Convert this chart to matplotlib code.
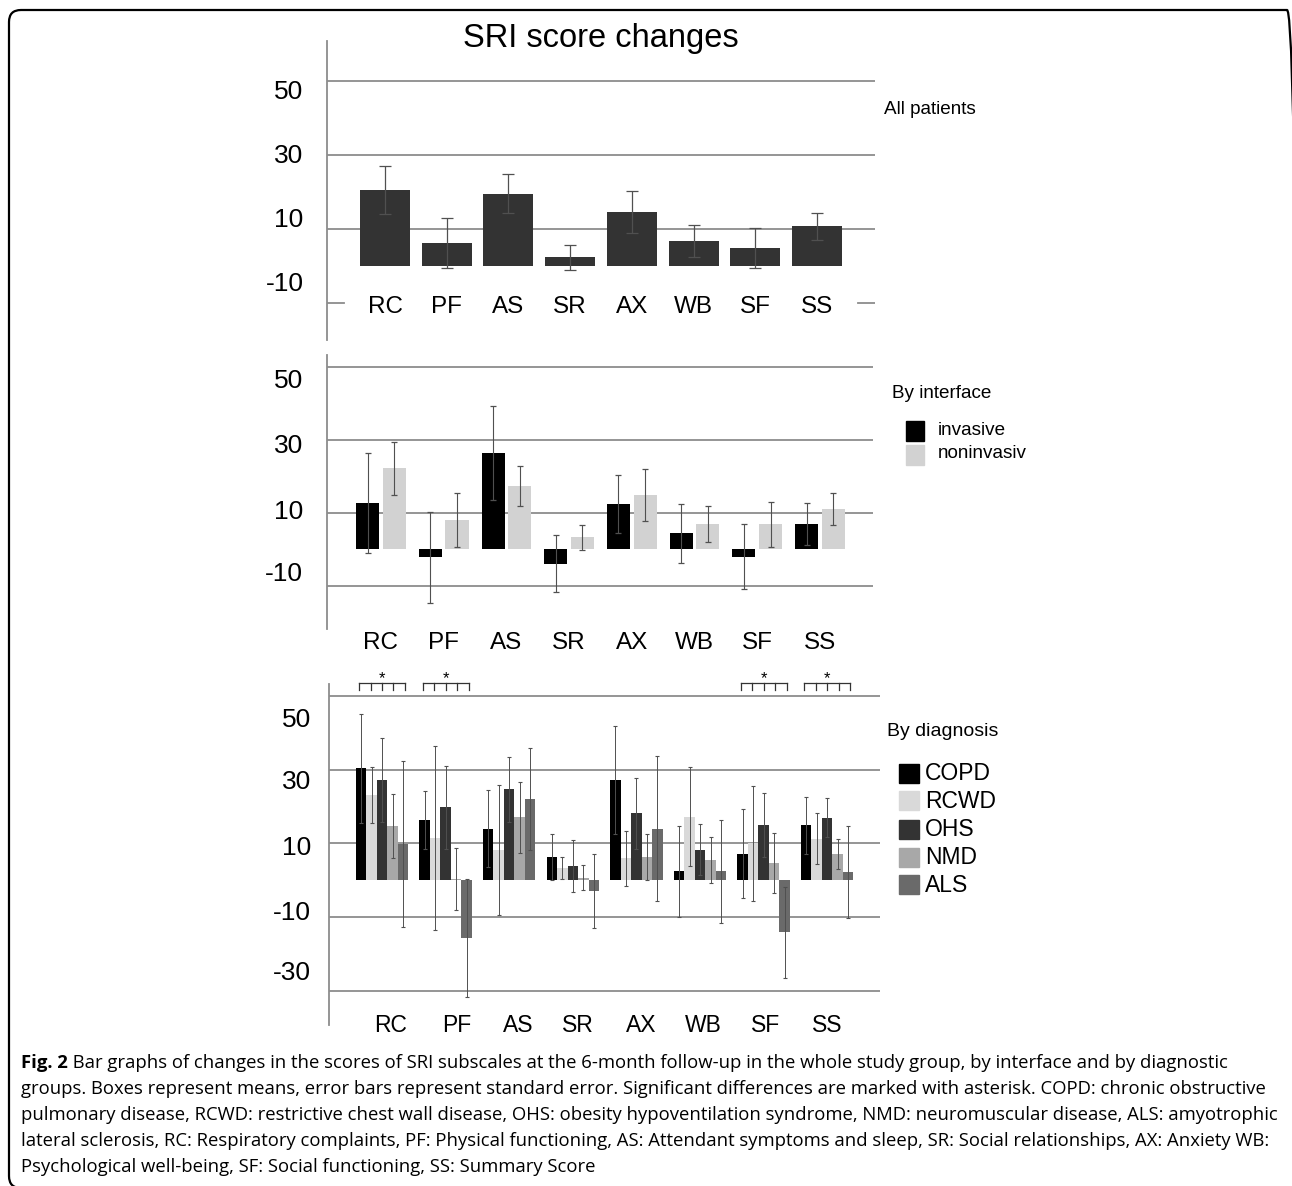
import matplotlib
matplotlib.use("Agg")
import matplotlib.pyplot as plt
from matplotlib.patches import FancyBboxPatch, Rectangle
from matplotlib.transforms import blended_transform_factory, IdentityTransform
import numpy as np

W, H = 1292, 1186

# ---------------- data ----------------
categories = ["RC", "PF", "AS", "SR", "AX", "WB", "SF", "SS"]
ytick_labels = ["50", "30", "10", "-10"]
ytick_labels_diag = ["50", "30", "10", "-10", "-30"]

all_mean = [20.6, 6.3, 19.5, 2.3, 14.6, 6.8, 4.9, 10.7]
all_se = [6.5, 6.8, 5.3, 3.3, 5.8, 4.3, 5.5, 3.6]

inv_mean = [12.8, -2.2, 26.4, -3.9, 12.5, 4.4, -2.0, 7.0]
inv_se = [13.7, 12.5, 12.9, 7.8, 8.0, 8.1, 8.9, 5.8]
non_mean = [22.3, 8.1, 17.4, 3.3, 15.0, 6.9, 6.9, 11.2]
non_se = [7.3, 7.4, 5.6, 3.5, 7.1, 4.9, 6.2, 4.4]

diagnoses = ["COPD", "RCWD", "OHS", "NMD", "ALS"]
copd_mean = [30.3, 16.3, 14.0, 6.3, 27.2, 2.4, 7.2, 14.9]
copd_se = [14.7, 7.9, 10.5, 6.3, 14.6, 12.3, 12.0, 7.7]
rcwd_mean = [23.1, 11.5, 8.2, 3.2, 5.9, 17.2, 10.0, 11.2]
rcwd_se = [7.7, 25.0, 17.7, 3.0, 7.5, 13.4, 15.6, 6.9]
ohs_mean = [27.2, 19.7, 24.6, 3.9, 18.1, 8.3, 14.9, 16.9]
ohs_se = [11.3, 11.3, 8.7, 7.0, 9.7, 7.0, 8.6, 5.3]
nmd_mean = [14.7, 0.3, 17.0, 0.7, 6.3, 5.4, 4.7, 7.0]
nmd_se = [8.6, 8.5, 9.6, 3.4, 6.3, 6.3, 8.1, 4.1]
als_mean = [9.8, -15.7, 22.0, -3.0, 14.0, 2.4, -14.2, 2.3]
als_se = [22.6, 16.1, 13.9, 10.0, 19.6, 14.0, 12.4, 12.5]
significant = ["RC", "PF", "SF", "SS"]

caption_bold = "Fig. 2"
caption_lines = [
    " Bar graphs of changes in the scores of SRI subscales at the 6-month follow-up in the whole study group, by interface and by diagnostic",
    "groups. Boxes represent means, error bars represent standard error. Significant differences are marked with asterisk. COPD: chronic obstructive",
    "pulmonary disease, RCWD: restrictive chest wall disease, OHS: obesity hypoventilation syndrome, NMD: neuromuscular disease, ALS: amyotrophic",
    "lateral sclerosis, RC: Respiratory complaints, PF: Physical functioning, AS: Attendant symptoms and sleep, SR: Social relationships, AX: Anxiety WB:",
    "Psychological well-being, SF: Social functioning, SS: Summary Score",
]

# ---------------- style ----------------
plt.rcParams["font.family"] = ["Liberation Sans", "DejaVu Sans"]
GRID = "#8c8c8c"
ERR = "#505050"

fig = plt.figure(figsize=(W / 100, H / 100), dpi=100)
fig.patch.set_facecolor("white")


def px_axes(x0, y0, x1, y1):
    return fig.add_axes([x0 / W, 1 - y1 / H, (x1 - x0) / W, (y1 - y0) / H])


def style(ax):
    for s in ["top", "right", "bottom"]:
        ax.spines[s].set_visible(False)
    ax.spines["left"].set_color(GRID)
    ax.spines["left"].set_linewidth(1.3)
    ax.set_xticks([])
    ax.set_yticks([])
    ax.patch.set_alpha(0)


def ylabels(ax, labels, positions, xoff, fs=19):
    tr = blended_transform_factory(ax.transAxes, ax.transData)
    for lab, p in zip(labels, positions):
        ax.text(xoff, p, lab, transform=tr, ha="right", va="center", fontsize=fs)


x = np.arange(len(categories))

# ---------------- top panel ----------------
ax1 = px_axes(327, 41, 875, 340)
style(ax1)
ax1.set_xlim(-0.94, 7.94)
ax1.set_ylim(-20, 60.8)
for g in [50, 30, 10]:
    ax1.axhline(g, color=GRID, lw=1.3, zorder=0)
ax1.axhline(-10, xmin=0, xmax=0.031, color=GRID, lw=1.3, zorder=0)
ax1.axhline(-10, xmin=0.969, xmax=1, color=GRID, lw=1.3, zorder=0)
ax1.bar(x, all_mean, width=0.81, color="#333333", zorder=2)
ax1.errorbar(x, all_mean, yerr=all_se, fmt="none", ecolor=ERR, elinewidth=0.9,
             capsize=4.3, capthick=0.9, zorder=3)
ylabels(ax1, ytick_labels, [47.0, 29.7, 12.4, -4.9], -0.043)
for i, c in enumerate(categories):
    ax1.text(i, -11.1, c, ha="center", va="center", fontsize=17.5)
fig.text(601 / W, 1 - 38 / H, "SRI score changes", fontsize=23.5, ha="center", va="center")
fig.text(884 / W, 1 - 110 / H, "All patients", fontsize=13.6, ha="left", va="center")

# ---------------- middle panel ----------------
ax2 = px_axes(327, 355, 873, 629)
style(ax2)
ax2.set_xlim(-0.86, 7.85)
ax2.set_ylim(-21.9, 53.4)
for g in [50, 30, 10, -10]:
    ax2.axhline(g, color=GRID, lw=1.3, zorder=0)
bw2 = 0.37
ax2.bar(x - 0.21, inv_mean, width=bw2, color="black", zorder=2)
ax2.bar(x + 0.215, non_mean, width=bw2, color="#d2d2d2", zorder=2)
ax2.errorbar(x - 0.21, inv_mean, yerr=inv_se, fmt="none", ecolor=ERR, elinewidth=0.8,
             capsize=2.2, capthick=0.9, zorder=3)
ax2.errorbar(x + 0.215, non_mean, yerr=non_se, fmt="none", ecolor=ERR, elinewidth=0.8,
             capsize=2.2, capthick=0.9, zorder=3)
ylabels(ax2, ytick_labels, [46.3, 28.4, 10.3, -6.8], -0.044)
for i, c in enumerate(categories):
    ax2.text(i, -25.7, c, ha="center", va="center", fontsize=17.5, clip_on=False)
fig.text(892 / W, 1 - 394 / H, "By interface", fontsize=13.6, ha="left", va="center")
for (yc, col, lab) in [(431, "black", "invasive"), (455, "#d2d2d2", "noninvasiv")]:
    fig.patches.append(Rectangle(((906) / W, 1 - (yc + 9.5) / H), 18 / W, 19 / H,
                                 transform=fig.transFigure, color=col))
    fig.text(938 / W, 1 - (yc - 1) / H, lab, fontsize=13.6, ha="left", va="center")

# ---------------- bottom panel ----------------
ax3 = px_axes(329, 684, 880, 1025)
style(ax3)
ax3.set_xlim(-0.834, 7.83)
ax3.set_ylim(-39.3, 53.2)
for g in [50, 30, 10, -10, -30]:
    ax3.axhline(g, color=GRID, lw=1.3, zorder=0)
diag_means = [copd_mean, rcwd_mean, ohs_mean, nmd_mean, als_mean]
diag_ses = [copd_se, rcwd_se, ohs_se, nmd_se, als_se]
diag_colors = ["#000000", "#d9d9d9", "#333333", "#a8a8a8", "#6a6a6a"]
bw3 = 0.165
for k, (m, s, col) in enumerate(zip(diag_means, diag_ses, diag_colors)):
    xs = x + (k - 2) * bw3
    ax3.bar(xs, m, width=bw3, color=col, zorder=2)
    ax3.errorbar(xs, m, yerr=s, fmt="none", ecolor=ERR, elinewidth=0.7,
                 capsize=1.2, capthick=0.8, zorder=3)
ylabels(ax3, ytick_labels_diag, [43.5, 26.7, 8.7, -9.0, -25.3], -0.033)
label_shift = [0.13, 0.17, 0.14, 0.08, 0.07, 0.05, 0.03, 0.0]
for i, c in enumerate(categories):
    ax3.text(i + label_shift[i], -39.3, c, ha="center", va="center", fontsize=16.5, clip_on=False)

# significance brackets
for c in significant:
    i = categories.index(c)
    ticks = i + np.arange(-2, 3) * 0.18
    ax3.plot([ticks[0], ticks[-1]], [53.5, 53.5], color="#333333", lw=0.9, clip_on=False)
    for t in ticks:
        ax3.plot([t, t], [53.5, 51.7], color="#333333", lw=0.9, clip_on=False)
    ax3.text(i, 54.6, "*", ha="center", va="center", fontsize=12, clip_on=False)

fig.text(887 / W, 1 - 732 / H, "By diagnosis", fontsize=14, ha="left", va="center")
legend_y = [773, 800, 829, 857, 884]
for lab, col, yc in zip(diagnoses, diag_colors, legend_y):
    fig.patches.append(Rectangle((899 / W, 1 - (yc + 10) / H), 20 / W, 19 / H,
                                 transform=fig.transFigure, color=col))
    fig.text(925 / W, 1 - (yc + 1) / H, lab, fontsize=16.5, ha="left", va="center")

# ---------------- frame ----------------
frame = FancyBboxPatch((9, -2), 1290, H - 8, boxstyle="round,pad=0,rounding_size=12",
                       transform=IdentityTransform(), facecolor="none", edgecolor="black", lw=1.6)
fig.patches.append(frame)

# ---------------- caption ----------------
cap_fs = 13.3
cap_family = ["Open Sans", "DejaVu Sans"]
line_y = [1063, 1089, 1115, 1141, 1167]
t0 = fig.text(21 / W, 1 - line_y[0] / H, caption_bold, fontsize=cap_fs, fontweight="bold",
              family=cap_family, ha="left", va="center")
fig.canvas.draw()
bb = t0.get_window_extent(fig.canvas.get_renderer())
fig.text(bb.x1 / W, 1 - line_y[0] / H, caption_lines[0], fontsize=cap_fs,
         family=cap_family, ha="left", va="center")
for line, yy in zip(caption_lines[1:], line_y[1:]):
    fig.text(21 / W, 1 - yy / H, line, fontsize=cap_fs, family=cap_family, ha="left", va="center")

fig.savefig("out.png", dpi=100)
